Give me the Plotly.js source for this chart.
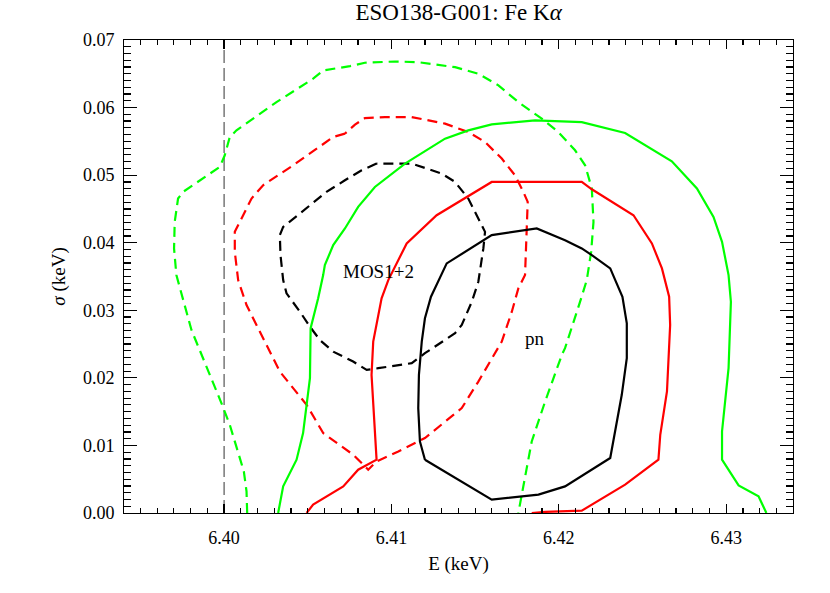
<!DOCTYPE html>
<html>
<head>
<meta charset="utf-8">
<script src="https://cdn.plot.ly/plotly-3.0.1.min.js"></script>
<style>html,body{margin:0;padding:0;background:#fff;}#chart{width:830px;height:593px;}</style>
</head>
<body>
<div id="chart"></div>
<script>
// MOS1+2 outer contour (green dashed)
const mosOuterE = [6.40138,6.40134,6.40118,6.40084,6.40034,6.39984,6.39914,6.39805,6.39715,6.39701,6.39705,6.39725,6.39755,6.39974,6.40004,6.40034,6.40074,6.40313,6.40532,6.40592,6.40752,6.40841,6.41021,6.4116,6.4138,6.41519,6.41639,6.41758,6.41898,6.41997,6.42097,6.42157,6.42197,6.42207,6.42193,6.42167,6.42127,6.42037,6.42018,6.41918,6.41838,6.41788,6.41758];
const mosOuterS = [0.0,0.00321,0.00616,0.00911,0.01306,0.01626,0.02044,0.02709,0.03521,0.03916,0.04308,0.04654,0.04752,0.05121,0.05294,0.05564,0.05663,0.06081,0.06427,0.06549,0.06613,0.06663,0.06682,0.06672,0.06598,0.065,0.06328,0.06081,0.05836,0.05638,0.05368,0.05146,0.04802,0.04308,0.03865,0.03447,0.03127,0.02439,0.0234,0.0165,0.01059,0.00371,0.0];
// MOS1+2 middle contour (red dashed)
const mosMidE = [6.40722,6.40652,6.40413,6.40233,6.40164,6.40114,6.40064,6.40064,6.40084,6.40134,6.40233,6.40333,6.40493,6.40592,6.40771,6.40861,6.40911,6.41041,6.412,6.4132,6.4142,6.41519,6.41599,6.41659,6.41719,6.41758,6.41798,6.41808,6.41814,6.41788,6.41738,6.41659,6.41559,6.41459,6.4132,6.41121,6.40961,6.40841,6.40782,6.40722];
const mosMidS = [0.05614,0.05564,0.05146,0.04851,0.04654,0.04407,0.04161,0.03865,0.03447,0.03078,0.02586,0.02093,0.01601,0.01183,0.00863,0.00641,0.00764,0.00911,0.01109,0.01354,0.01552,0.01945,0.02291,0.02536,0.02979,0.03325,0.03521,0.04112,0.04604,0.04752,0.04998,0.05245,0.0549,0.05638,0.05762,0.05859,0.05859,0.05844,0.05747,0.05614];
// MOS1+2 inner contour (black dashed)
const mosInE = [6.40911,6.40822,6.40722,6.40612,6.40453,6.40353,6.40333,6.40337,6.40353,6.40373,6.40453,6.40513,6.40572,6.40652,6.40771,6.40852,6.40921,6.41121,6.412,6.4138,6.4142,6.4148,6.41519,6.41549,6.41559,6.41529,6.41459,6.4138,6.413,6.41121,6.40911];
const mosInS = [0.05171,0.05072,0.04924,0.04752,0.04433,0.04235,0.04112,0.03817,0.03447,0.03251,0.02979,0.02758,0.02561,0.02388,0.02241,0.02118,0.02143,0.02217,0.02365,0.0266,0.02783,0.03127,0.03422,0.03916,0.04161,0.04308,0.04654,0.04899,0.05023,0.05171,0.05171];
// pn outer contour (green solid)
const pnOuterE = [6.40323,6.40353,6.40433,6.40472,6.40493,6.40513,6.40517,6.40562,6.40592,6.40602,6.40652,6.40722,6.40801,6.40901,6.41081,6.4132,6.41459,6.41599,6.41858,6.42037,6.42137,6.42396,6.42675,6.42825,6.42924,6.42975,6.43014,6.43028,6.43014,6.42975,6.42975,6.43074,6.43193,6.4324];
const pnOuterS = [0.0,0.00394,0.00789,0.01183,0.01601,0.01995,0.02734,0.03177,0.03521,0.03669,0.03964,0.04211,0.0453,0.04825,0.05171,0.0554,0.05663,0.05751,0.05811,0.05796,0.05785,0.05623,0.05205,0.04802,0.04382,0.04013,0.03521,0.03127,0.02143,0.01207,0.00789,0.00409,0.00247,0.0];
// pn middle contour (red solid)
const pnMidE = [6.40493,6.40532,6.40712,6.40801,6.40911,6.40881,6.40891,6.40911,6.40941,6.40981,6.41091,6.4127,6.41599,6.42137,6.42197,6.42446,6.42556,6.42616,6.42659,6.42665,6.42646,6.42606,6.42595,6.42396,6.42137,6.41918,6.41838];
const pnMidS = [0.0,0.00124,0.00394,0.00641,0.00789,0.02044,0.02536,0.02783,0.03177,0.03447,0.0399,0.04407,0.04899,0.04899,0.04791,0.04407,0.0399,0.0362,0.03201,0.02783,0.01798,0.01158,0.00789,0.00419,0.00035,0.00016,0.0];
// pn inner contour (black solid)
const pnInE = [6.412,6.4117,6.4116,6.41164,6.41181,6.412,6.41236,6.413,6.4133,6.41599,6.41868,6.42037,6.42137,6.42197,6.42307,6.42337,6.4238,6.42406,6.42406,6.42376,6.42307,6.42037,6.41878,6.41599,6.412];
const pnInS = [0.00789,0.01059,0.01552,0.02044,0.02536,0.02882,0.03201,0.03521,0.03694,0.04112,0.04211,0.04038,0.03916,0.03817,0.0362,0.03447,0.03201,0.02808,0.02291,0.01749,0.00814,0.00394,0.00272,0.00198,0.00789];
// reference energy line
const refLineE = [6.40, 6.40];
const refLineS = [0.0, 0.07];
// labels
const labelText = ["MOS1+2", "pn"];
const labelE = [6.40925, 6.41858];
const labelS = [0.0357, 0.02576];

const GREEN = "#00ff00", RED = "#ff0000", BLACK = "#000000";
const DASH = "10px,6px";
function tr(x, y, color, dash) {
  return {x: x, y: y, type: "scatter", mode: "lines", hoverinfo: "skip",
          line: {color: color, width: 2.2, dash: dash}, showlegend: false};
}
const data = [
  {x: refLineE, y: refLineS, type: "scatter", mode: "lines", showlegend: false,
   line: {color: "#333", width: 1, dash: "13px,5px"}},
  tr(mosOuterE, mosOuterS, GREEN, DASH),
  tr(mosMidE, mosMidS, RED, DASH),
  tr(mosInE, mosInS, BLACK, DASH),
  tr(pnOuterE, pnOuterS, GREEN, "solid"),
  tr(pnMidE, pnMidS, RED, "solid"),
  tr(pnInE, pnInS, BLACK, "solid")
];
const FONT = "Liberation Serif, Times New Roman, serif";
const annotations = labelText.map((t, i) => ({
  x: labelE[i], y: labelS[i], xref: "x", yref: "y", text: t, showarrow: false,
  font: {family: FONT, size: 19, color: "#000"}
}));
const XR = [6.39402, 6.43399], YR = [0, 0.07];
const TC = "#000";
const layout = {
  width: 830, height: 593,
  margin: {l: 124, r: 37, t: 39.5, b: 79.7},
  paper_bgcolor: "#fff", plot_bgcolor: "#fff",
  font: {family: FONT, color: "#000", size: 18},
  title: {text: "ESO138-G001: Fe K<i>α</i>", x: 0.5525, xanchor: "center", y: 0.993, yanchor: "top",
          font: {family: FONT, size: 23, color: "#000"}},
  xaxis: {range: XR, tickformat: ".2f", dtick: 0.01, tick0: 6.40, showgrid: false, zeroline: false,
          showline: true, linecolor: "#000", linewidth: 1, mirror: "allticks",
          ticks: "inside", ticklen: 9, tickcolor: TC, tickwidth: 1.2,
          minor: {dtick: 0.001, ticks: "inside", ticklen: 5, tickcolor: TC, tickwidth: 1.2, showgrid: false},
          tickfont: {family: FONT, size: 18}, ticklabelstandoff: 8,
          title: {text: "E (keV)", font: {family: FONT, size: 19}, standoff: 10}},
  yaxis: {range: YR, tickformat: ".2f", dtick: 0.01, tick0: 0, showgrid: false, zeroline: false,
          showline: true, linecolor: "#000", linewidth: 1, mirror: "allticks",
          ticks: "inside", ticklen: 13, tickcolor: TC, tickwidth: 1.2,
          minor: {dtick: 0.001, ticks: "inside", ticklen: 7, tickcolor: TC, tickwidth: 1.2, showgrid: false},
          tickfont: {family: FONT, size: 18}, ticklabelstandoff: 5,
          title: {text: "<i>σ</i> (keV)", font: {family: FONT, size: 19}, standoff: 12}},
  annotations: annotations
};
Plotly.newPlot("chart", data, layout, {staticPlot: true, displayModeBar: false});
</script>
</body>
</html>
